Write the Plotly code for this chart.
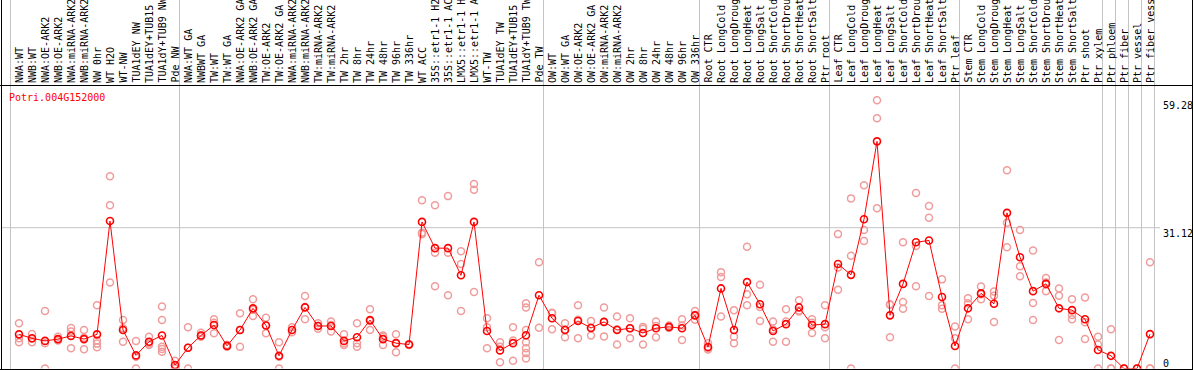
import plotly.graph_objects as go

# ---------------- data ----------------
gene = "Potri.004G152000"

categories = [
    "NWA:WT", "NWB:WT", "NWA:OE-ARK2", "NWB:OE-ARK2", "NWA:miRNA-ARK2", "NWB:miRNA-ARK2",
    "NW 0hr", "WT H2O", "WT-NW", "TUA1dEY NW", "TUA1dEY+TUB15", "TUA1dY+TUB9 NW", "Pde NW",
    "NWA:WT GA", "NWBWT GA", "TW:WT", "TW:WT GA", "NWA:OE-ARK2 GA", "NWB:OE-ARK2 GA",
    "TW:OE-ARK2", "TW:OE-ARK2 GA", "NWA:miRNA-ARK2", "NWB:miRNA-ARK2", "TW:miRNA-ARK2",
    "TW:miRNA-ARK2", "TW 2hr", "TW 8hr", "TW 24hr", "TW 48hr", "TW 96hr", "TW 336hr",
    "WT ACC", "35S::etr1-1 H2O", "35S::etr1-1 ACC", "LMX5::etr1-1 H2O", "LMX5::etr1-1 ACC",
    "WT-TW", "TUA1dEY TW", "TUA1dEY+TUB15", "TUA1dY+TUB9 TW", "Pde TW",
    "OW:WT", "OW:WT GA", "OW:OE-ARK2", "OW:OE-ARK2 GA", "OW:miRNA-ARK2", "OW:miRNA-ARK2",
    "OW 2hr", "OW 8hr", "OW 24hr", "OW 48hr", "OW 96hr", "OW 336hr",
    "Root CTR", "Root LongCold", "Root LongDrought", "Root LongHeat", "Root LongSalt",
    "Root ShortCold", "Root ShortDrought", "Root ShortHeat", "Root ShortSalt", "Ptr root",
    "Leaf CTR", "Leaf LongCold", "Leaf LongDrought", "Leaf LongHeat", "Leaf LongSalt",
    "Leaf ShortCold", "Leaf ShortDrought", "Leaf ShortHeat", "Leaf ShortSalt", "Ptr leaf",
    "Stem CTR", "Stem LongCold", "Stem LongDrought", "Stem LongHeat", "Stem LongSalt",
    "Stem ShortCold", "Stem ShortDrought", "Stem ShortHeat", "Stem ShortSalt", "Ptr shoot",
    "Ptr xylem", "Ptr phloem", "Ptr fiber", "Ptr vessel", "Ptr fiber vessel",
]

group_sizes = [13, 28, 12, 10, 10, 11, 1, 1, 1, 1]

mean_values = [
    7.55, 6.67, 6.1, 6.5, 7.2, 6.5, 7.55, 32.6, 8.5, 2.9, 5.9, 7.3, 0.77,
    4.6, 7.3, 9.6, 5.0, 8.5, 13.3, 9.5, 2.8, 8.5, 13.5, 9.4, 9.4, 6.1, 6.9, 10.7, 6.5,
    5.6, 5.3, 32.4, 26.6, 26.6, 20.6, 32.4, 8.3, 4.0, 5.6, 7.35, 16.2,
    11.1, 8.5, 10.5, 8.95, 10.3, 8.5, 8.9, 7.85, 8.9, 9.2, 8.9, 11.75,
    4.75, 17.7, 8.5, 19.1, 14.2, 8.3, 9.8, 13.5, 9.6, 9.8,
    23.1, 20.7, 33.0, 50.2, 11.75, 18.7, 27.9, 28.3, 15.8, 4.97,
    13.3, 16.6, 14.3, 34.4, 24.6, 17.1, 18.7, 13.3, 12.9, 10.9, 4.1,
    2.8, 0.0, 0.0, 7.6,
]

replicates = [
    [10.0, 6.7, 5.8], [7.6, 6.6, 5.8], [12.7, 5.6, 0.0], [7.0, 6.3, 6.2],
    [8.95, 8.2, 4.46], [8.5, 6.8, 4.24], [14.0, 6.2, 5.5, 4.7], [42.5, 36.1, 19.0],
    [10.7, 8.9, 5.9], [6.1, 2.6, 0.0], [7.0, 5.5, 5.2], [13.7, 10.7, 4.8, 4.3, 3.7],
    [1.7, 0.6, 0.0],
    [9.1, 4.6, 0.0], [7.9, 7.3, 7.0], [10.9, 10.1, 7.8], [5.2, 4.8], [12.2, 8.5, 4.8],
    [15.3, 13.0, 11.6], [11.2, 9.5, 7.8], [5.8, 2.6, 0.0], [9.1, 8.0], [16.0, 13.6, 10.9],
    [10.0, 9.4, 8.8], [10.4, 9.6, 8.2], [7.55, 5.6, 5.2], [10.0, 5.6, 4.8],
    [13.1, 10.5, 8.5], [7.3, 7.0, 5.2], [7.55, 5.6, 3.6], [5.4, 5.3, 5.2],
    [37.2, 30.0, 29.7], [36.1, 25.6, 18.2], [38.1, 25.6, 16.2], [25.9, 23.1, 12.7],
    [40.8, 39.5, 16.9], [11.1, 9.1, 4.46], [5.8, 4.8, 1.4], [9.1, 6.2, 1.7],
    [14.4, 13.5, 8.5, 5.8, 4.46, 3.4, 2.2], [23.5, 9.0],
    [12.3, 12.2, 8.7], [10.0, 8.6, 6.9], [14.0, 10.8, 6.7], [10.5, 9.0, 7.3],
    [13.5, 10.3, 7.1], [11.5, 8.7, 5.3], [11.1, 8.9, 6.7], [9.2, 8.8, 5.3],
    [10.4, 9.4, 6.9], [9.5, 9.2, 8.95], [10.9, 9.5, 6.3], [12.7, 11.8, 10.8],
    [5.6, 4.46, 4.2], [21.3, 20.2, 11.5], [12.9, 7.0, 5.6], [26.9, 16.4, 14.0],
    [18.5, 13.6, 10.5], [10.4, 8.6, 5.9], [13.1, 10.4, 5.9], [15.1, 12.8, 12.6],
    [10.9, 10.1, 7.85], [14.0, 9.1, 6.7],
    [29.7, 22.3, 17.4], [37.6, 24.9, 0.0], [40.5, 30.6, 28.2], [59.28, 55.3, 35.4],
    [14.2, 14.1, 6.9], [27.9, 14.7, 13.2], [38.8, 27.1, 18.2], [35.9, 33.3, 16.0],
    [19.7, 14.0, 13.2], [9.3, 6.7, 0.0],
    [15.5, 14.4, 10.9], [18.1, 16.4, 15.3], [17.0, 16.1, 10.3], [43.8, 32.2, 26.8],
    [30.6, 22.6, 20.4], [26.1, 14.5, 10.7], [20.0, 19.0, 17.1], [17.7, 16.1, 6.3],
    [15.3, 11.8, 10.9], [15.7, 10.2, 6.5], [7.0, 5.3, 0.0],
    [8.7, 0.0, 0.0], [0.0, 0.0], [0.0, 0.0], [23.5, 0.0, 0.0],
]

y_ticks = [0, 31.12, 59.28]
y_grid = [31.12]

# ---------------- geometry ----------------
W, H = 1194, 370
PX_PER_CAT = 13.0
X0_PX = 19.0                 # pixel of first category
PLOT_TOP_PX = 85.0           # header / plot boundary
ZERO_PX = 368.5              # y = 0
PX_PER_UNIT = (ZERO_PX - 227.7) / 31.12

x_min = -X0_PX / PX_PER_CAT
x_max = x_min + W / PX_PER_CAT
y_max = (ZERO_PX - PLOT_TOP_PX) / PX_PER_UNIT

def py(p):  # pixel-from-top -> paper fraction
    return 1 - p / H

def px(p):
    return p / W

FONT = "DejaVu Sans Mono"
RED = "#FF0000"
PINK = "#F09C9C"
GRID = "#C4C4C4"

x_idx = list(range(len(categories)))

rep_x, rep_y = [], []
for i, reps in enumerate(replicates):
    for v in reps:
        rep_x.append(i)
        rep_y.append(v)

fig = go.Figure()
fig.add_trace(go.Scatter(
    x=rep_x, y=rep_y, mode="markers",
    marker=dict(symbol="circle-open", size=7, color=PINK, line=dict(width=1.5, color=PINK)),
    hoverinfo="skip", showlegend=False,
))
fig.add_trace(go.Scatter(
    x=x_idx, y=mean_values, mode="lines+markers",
    line=dict(color=RED, width=1),
    marker=dict(symbol="circle-open", size=7, color=RED, line=dict(width=1.6, color=RED)),
    showlegend=False,
))

shapes = []
# vertical group separators
bounds = [0]
for g in group_sizes:
    bounds.append(bounds[-1] + g)
for b in bounds:
    xd = b - 8.5 / PX_PER_CAT
    shapes.append(dict(type="line", xref="x", yref="paper", x0=xd, x1=xd, y0=py(369), y1=1,
                       line=dict(color=GRID, width=1), layer="below"))
# horizontal grid
for g in y_grid:
    shapes.append(dict(type="line", xref="paper", yref="y", x0=px(1), x1=px(1160), y0=g, y1=g,
                       line=dict(color=GRID, width=1), layer="below"))
# black frame lines
shapes.append(dict(type="line", xref="paper", yref="paper", x0=px(1.5), x1=px(1.5), y0=0, y1=1,
                   line=dict(color="black", width=1)))
shapes.append(dict(type="line", xref="paper", yref="paper", x0=px(1192.5), x1=px(1192.5), y0=0, y1=1,
                   line=dict(color="black", width=1)))
shapes.append(dict(type="line", xref="paper", yref="paper", x0=0, x1=px(1193), y0=py(85.5), y1=py(85.5),
                   line=dict(color="black", width=1)))
shapes.append(dict(type="line", xref="paper", yref="paper", x0=0, x1=px(1193), y0=py(369.5), y1=py(369.5),
                   line=dict(color="black", width=1)))

annotations = []
for i, lab in enumerate(categories):
    annotations.append(dict(
        x=i, xref="x", y=py(83), yref="paper", text=lab, showarrow=False,
        textangle=-90, xanchor="center", yanchor="bottom",
        font=dict(family=FONT, size=10, color="black"), borderpad=0, borderwidth=0,
    ))
annotations.append(dict(
    x=px(9), xref="paper", y=py(97), yref="paper", text=gene, showarrow=False,
    xanchor="left", yanchor="middle", font=dict(family=FONT, size=10, color=RED),
    borderpad=0, borderwidth=0,
))
for t in y_ticks:
    annotations.append(dict(
        x=px(1163), xref="paper", y=t, yref="y", text=("%g" % t), showarrow=False,
        xanchor="left", yanchor=("bottom" if t == 0 else "top"),
        font=dict(family=FONT, size=10, color="black"), borderpad=0, borderwidth=0,
    ))

fig.update_layout(
    width=W, height=H, margin=dict(l=0, r=0, t=0, b=0),
    paper_bgcolor="white", plot_bgcolor="white",
    xaxis=dict(range=[x_min, x_max], showgrid=False, zeroline=False, showticklabels=False,
               ticks="", showline=False, fixedrange=True),
    yaxis=dict(range=[0, y_max], domain=[py(ZERO_PX), py(PLOT_TOP_PX)], showgrid=False,
               zeroline=False, showticklabels=False, ticks="", showline=False, fixedrange=True),
    shapes=shapes, annotations=annotations, showlegend=False,
)

fig.write_html(
    "out.html",
    config={"displayModeBar": False, "staticPlot": True},
    post_script="document.body.style.margin='0';document.body.style.overflow='hidden';",
)
